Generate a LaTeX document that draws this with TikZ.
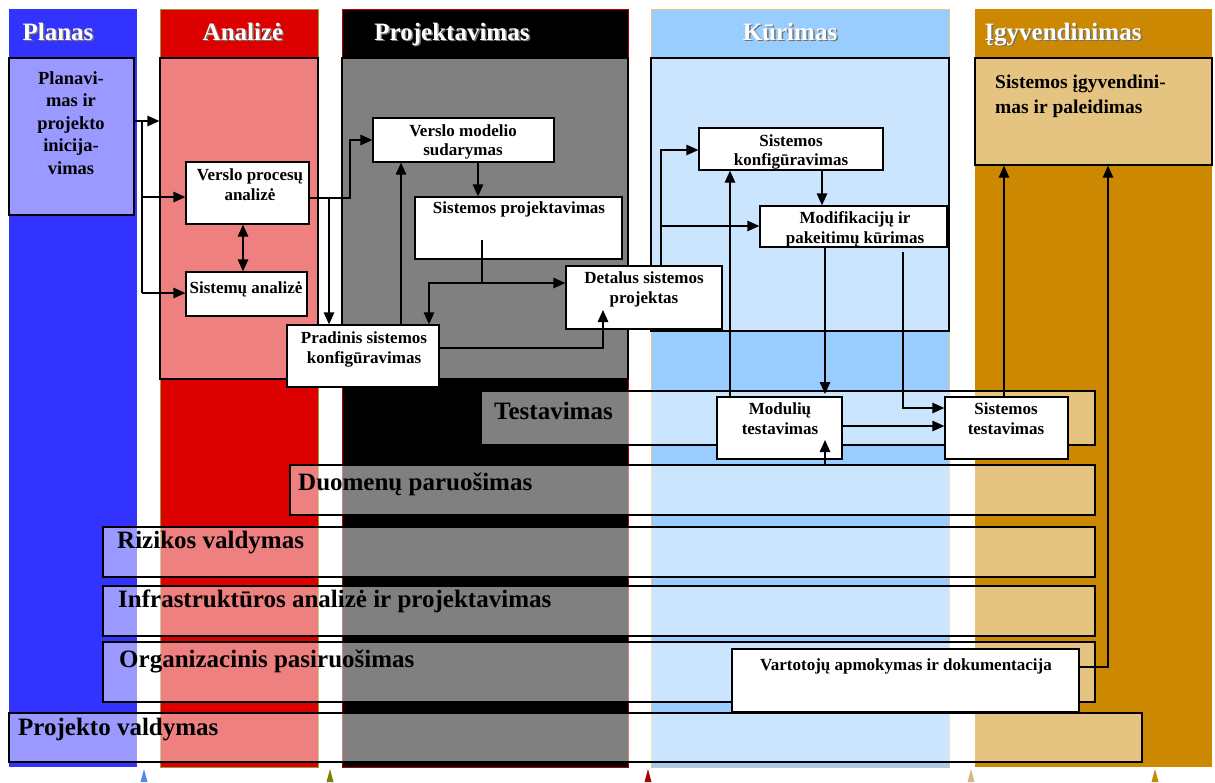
\documentclass[tikz,border=0pt]{standalone}
\usepackage{fontspec}
\setmainfont{Liberation Serif}
\usetikzlibrary{arrows.meta,fit,calc}
\definecolor{cblue}{HTML}{3333FF}
\definecolor{cred}{HTML}{DD0000}
\definecolor{cltblue}{HTML}{99CCFF}
\definecolor{corange}{HTML}{CC8800}
\definecolor{colive}{HTML}{999933}
\definecolor{ctan}{HTML}{E0C590}
\definecolor{triA}{HTML}{5588EE}
\definecolor{triB}{HTML}{808000}
\definecolor{triC}{HTML}{AA0000}
\definecolor{triD}{HTML}{D8B880}
\definecolor{triE}{HTML}{CC8800}
\begin{document}
\begin{tikzpicture}[x=1pt,y=-1pt,
  ovbox/.style={draw=black, line width=1.3pt, fill=white, fill opacity=0.5, inner sep=0pt},
  wbox/.style={draw=black, line width=1.3pt, fill=white, inner sep=0pt},
  boxtxt/.style={font=\fontsize{17}{19.5}\selectfont\bfseries, align=center, inner sep=0pt, anchor=north},
  bandtxt/.style={font=\fontsize{25}{28}\selectfont\bfseries, inner sep=0pt, anchor=base west},
  hdr/.style={font=\fontsize{25}{28}\selectfont\bfseries, inner sep=0pt, anchor=base, text=white},
  hdrsh/.style={font=\fontsize{25}{28}\selectfont\bfseries, inner sep=0pt, anchor=base, text=black!55},
  conn/.style={line width=1.3pt, -{Triangle[length=12pt,width=10.5pt]}},
  dconn/.style={line width=1.3pt, {Triangle[length=12pt,width=10.5pt]}-{Triangle[length=12pt,width=10.5pt]}},
  plain/.style={line width=1.3pt},
]
\useasboundingbox (0,0) rectangle (1215,782);
\fill[white] (0,0) rectangle (1215,782);

% phase columns
\fill[cblue] (9,9) rectangle (137,767);
\filldraw[fill=cred, draw=colive, line width=1pt] (160,9) rectangle (318,767);
\filldraw[fill=black, draw=cred!80!black, line width=1pt] (342,9) rectangle (628,767);
\filldraw[fill=cltblue, draw=ctan, line width=1pt] (651,9) rectangle (949,767);
\fill[corange] (975,9) rectangle (1212,767);

% headers
\node[hdrsh] (hPlanS) at (59.5,41.5) {Planas};
\node[hdr] (hPlan) at (58,40) {Planas};
\node[hdrsh] (hAnS) at (244.5,41.5) {Analizė};
\node[hdr] (hAn) at (243,40) {Analizė};
\node[hdrsh] (hPrS) at (453.5,41.5) {Projektavimas};
\node[hdr] (hPr) at (452,40) {Projektavimas};
\node[hdrsh] (hKuS) at (791.5,41.5) {Kūrimas};
\node[hdr] (hKu) at (790,40) {Kūrimas};
\node[hdrsh] (hIgS) at (1064.5,41.5) {Įgyvendinimas};
\node[hdr] (hIg) at (1063,40) {Įgyvendinimas};

% phase inner areas
\node[ovbox, fit={(9,58) (134,215)}] (plan) {};
\node[ovbox, fit={(160,58) (318,379)}] (anal) {};
\node[ovbox, fit={(342,58) (628,379)}] (proj) {};
\node[ovbox, fit={(651,58) (949,331)}] (kur) {};
\node[ovbox, fit={(975,58) (1212,165)}] (igy) {};
\node[font=\fontsize{18.5}{22.4}\selectfont\bfseries, align=center, inner sep=0pt, anchor=north] (plantxt) at (71,71.5) {Planavi-\\mas ir\\projekto\\inicija-\\vimas};
\node[font=\fontsize{19.5}{25}\selectfont\bfseries, align=left, inner sep=0pt, anchor=north west] (igytxt) at (995,75) {Sistemos įgyvendini-\\mas ir paleidimas};

% horizontal bands
\node[ovbox, fit={(481,391) (1095,445)}] (testband) {};
\node[bandtxt] (testtxt) at (494,419) {Testavimas};
\node[ovbox, fit={(290,465) (1095,515)}] (duomband) {};
\node[bandtxt] (duomtxt) at (298,490) {Duomenų paruošimas};
\node[ovbox, fit={(103,527) (1095,577)}] (rizband) {};
\node[bandtxt] (riztxt) at (117,548) {Rizikos valdymas};
\node[ovbox, fit={(103,586) (1095,636)}] (infband) {};
\node[bandtxt] (inftxt) at (118,607) {Infrastruktūros analizė ir projektavimas};
\node[ovbox, fit={(103,642) (1095,702)}] (orgband) {};
\node[bandtxt] (orgtxt) at (119,667) {Organizacinis pasiruošimas};
\node[ovbox, fit={(9,713) (1142,762)}] (pvband) {};
\node[bandtxt] (pvtxt) at (18,735) {Projekto valdymas};

% white boxes
\node[wbox, fit={(186,162) (309,224)}] (vpa) {};
\node[boxtxt] (vpatxt) at (250,168.5) {Verslo procesų\\analizė};
\node[wbox, fit={(186,272) (307,316)}] (sa) {};
\node[boxtxt] (satxt) at (246,281.5) {Sistemų analizė};
\node[wbox, fit={(373,118) (554,162)}] (vms) {};
\node[boxtxt] (vmstxt) at (463,124.5) {Verslo modelio\\sudarymas};
\node[wbox, fit={(415,197) (622,259)}] (sp) {};
\node[boxtxt] (sptxt) at (519,201.5) {Sistemos projektavimas};
\node[wbox, fit={(566,266) (722,329)}] (det) {};
\node[boxtxt] (dettxt) at (644,271.5) {Detalus sistemos\\projektas};
\node[wbox, fit={(287,325) (439,387)}] (prad) {};
\node[boxtxt] (pradtxt) at (364,331.5) {Pradinis sistemos\\konfigūravimas};
\node[wbox, fit={(699,128) (883,170)}] (sk) {};
\node[boxtxt] (sktxt) at (791,134.5) {Sistemos\\konfigūravimas};
\node[wbox, fit={(760,206) (947,247)}] (mod) {};
\node[boxtxt] (modtxt) at (855,211.5) {Modifikacijų ir\\pakeitimų kūrimas};
\node[wbox, fit={(717,397) (842,459)}] (mt) {};
\node[boxtxt] (mttxt) at (780,402.5) {Modulių\\testavimas};
\node[wbox, fit={(945,397) (1068,459)}] (st) {};
\node[boxtxt] (sttxt) at (1006,402.5) {Sistemos\\testavimas};
\node[wbox, fit={(732,649) (1079,712)}] (vart) {};
\node[boxtxt] (varttxt) at (906,658.5) {Vartotojų apmokymas ir dokumentacija};

% helper coordinates
\coordinate (a1) at (142,121);
\coordinate (a2) at (142,197);
\coordinate (a3) at (142,293);
\coordinate (c243) at (243,0);
\coordinate (b1) at (350,198);
\coordinate (b2) at (329,198);
\coordinate (c478) at (478,0);
\coordinate (c401) at (401,0);
\coordinate (d1) at (482,240);
\coordinate (d2) at (482,283);
\coordinate (c429) at (429,0);
\coordinate (e1) at (603,348);
\coordinate (e2) at (603,310);
\coordinate (f1) at (661,150);
\coordinate (f2) at (661,226);
\coordinate (c730) at (730,0);
\coordinate (c822) at (822,0);
\coordinate (c825) at (825,0);
\coordinate (mtop) at (825,394);
\coordinate (g1) at (903,252);
\coordinate (g2) at (903,408);
\coordinate (h1) at (842,426);
\coordinate (k1) at (825,440);
\coordinate (c1004) at (1004,0);
\coordinate (m1) at (1108,667);

% connectors
\draw[conn] (plan.east |- a1) -- (anal.west |- a1);
\draw[plain] (a1) -- (a3);
\draw[conn] (a2) -- (vpa.west |- a2);
\draw[conn] (a3) -- (sa.west |- a3);
\draw[dconn] (vpa.south -| c243) -- (sa.north -| c243);
\draw[conn] (vpa.east |- b1) -- (b1) |- (vms.west);
\draw[conn] (b2) -- (b2 |- prad.north);
\draw[conn] (vms.south -| c478) -- (sp.north -| c478);
\draw[conn] (prad.north -| c401) -- (vms.south -| c401);
\draw[plain] (d1) -- (d2);
\draw[conn] (d2) -| (prad.north -| c429);
\draw[conn] (d2) -- (det.west |- d2);
\draw[conn] (prad.east |- e1) -| (e2);
\draw[conn] (det.north -| f1) |- (sk.west |- f1);
\draw[conn] (f2) -- (mod.west |- f2);
\draw[conn] (mt.north -| c730) -- (sk.south -| c730);
\draw[conn] (sk.south -| c822) -- (mod.north -| c822);
\draw[conn] (mod.south -| c825) -- (mtop);
\draw[conn] (g1) |- (st.west |- g2);
\draw[conn] (mt.east |- h1) -- (st.west |- h1);
\draw[conn] (duomband.north -| c825) -- (k1);
\draw[conn] (st.north -| c1004) -- (igy.south -| c1004);
\draw[conn] (vart.east |- m1) -| (igy.south -| m1);

% bottom markers
\fill[triA] (140.5,782) -- (144,769) -- (147.5,782) -- cycle;
\fill[triB] (326.5,782) -- (330,769) -- (333.5,782) -- cycle;
\fill[triC] (644.5,782) -- (648,769) -- (651.5,782) -- cycle;
\fill[triD] (967.5,782) -- (971,769) -- (974.5,782) -- cycle;
\fill[triE] (1151.5,782) -- (1155,769) -- (1158.5,782) -- cycle;
\end{tikzpicture}
\end{document}
